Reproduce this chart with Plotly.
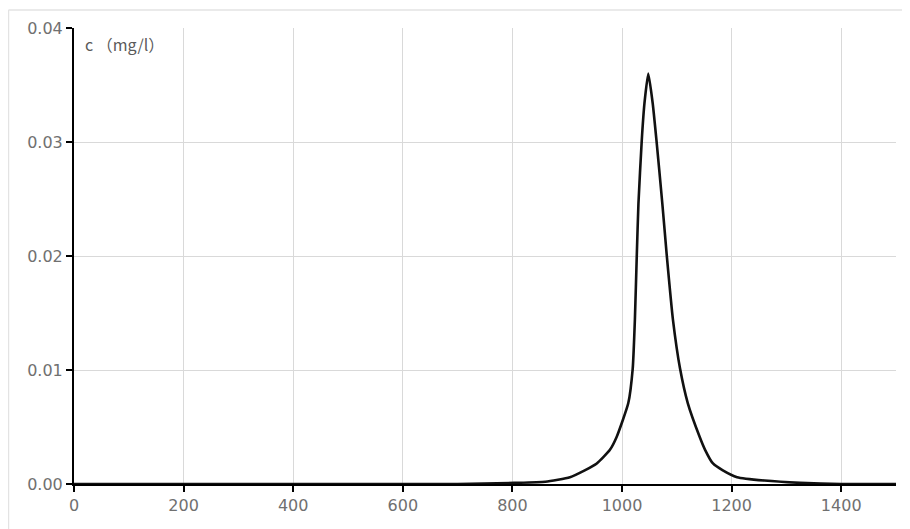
import plotly.graph_objects as go

# position (x) and concentration c (mg/l)
x_vals = [0, 700, 803, 860, 905, 932, 954, 978, 990, 1011.5, 1019.5, 1023.5, 1027,
          1030, 1036, 1041, 1048, 1056, 1063, 1073.6, 1081.6, 1093, 1106, 1120,
          1142, 1151.6, 1166, 1184, 1210, 1260, 1325, 1400, 1500]
c_vals = [0, 0, 0.0001, 0.0002, 0.0006, 0.0012, 0.0018, 0.0030, 0.0041, 0.0071,
          0.0101, 0.0144, 0.0201, 0.0246, 0.0301, 0.0334, 0.0360, 0.0334, 0.0301,
          0.0246, 0.0201, 0.0144, 0.0101, 0.0071, 0.0041, 0.0030, 0.0018, 0.0012,
          0.0006, 0.0003, 0.0001, 0, 0]
x_ticks = [0, 200, 400, 600, 800, 1000, 1200, 1400]
y_ticks = [0.00, 0.01, 0.02, 0.03, 0.04]
y_label = "c （mg/l）"

fig = go.Figure()
fig.add_trace(go.Scatter(x=x_vals, y=c_vals, mode="lines",
                         line=dict(color="#111111", width=2.6, shape="spline", smoothing=0.5),
                         hoverinfo="skip", showlegend=False))

tick_font = dict(family="DejaVu Sans, sans-serif", size=16, color="#707070")
lab_fam = "Noto Sans CJK SC, DejaVu Sans, sans-serif"

fig.update_layout(
    width=902, height=521,
    margin=dict(l=66, r=14, t=20, b=45),
    paper_bgcolor="white", plot_bgcolor="white",
    font=tick_font,
    xaxis=dict(range=[0, 1500], tickvals=x_ticks, ticktext=[str(t) for t in x_ticks],
               showgrid=True, gridcolor="#d9d9d9", gridwidth=1,
               showline=True, linecolor="black", linewidth=2,
               ticks="outside", ticklen=6, tickcolor="black", tickwidth=1.5,
               zeroline=False, tickfont=tick_font),
    yaxis=dict(range=[0, 0.04], tickvals=y_ticks, ticktext=["%.2f" % t for t in y_ticks],
               showgrid=True, gridcolor="#d9d9d9", gridwidth=1,
               showline=True, linecolor="black", linewidth=2,
               ticks="outside", ticklen=6, tickcolor="black", tickwidth=1.5,
               zeroline=False, tickfont=tick_font),
    annotations=[dict(text=y_label, xref="paper", yref="paper", x=0.011, y=0.995,
                      xanchor="left", yanchor="top", showarrow=False,
                      font=dict(family=lab_fam, size=16, color="#5a5a5a"))],
    shapes=[
        dict(type="line", xref="paper", yref="paper", x0=-0.0797, x1=1.03,
             y0=1.0395, y1=1.0395, line=dict(color="#e3e3e3", width=1.5)),
        dict(type="line", xref="paper", yref="paper", x0=-0.0797, x1=-0.0797,
             y0=1.0395, y1=-0.11, line=dict(color="#e3e3e3", width=1.5)),
    ],
)

fig.write_html("out.html")
